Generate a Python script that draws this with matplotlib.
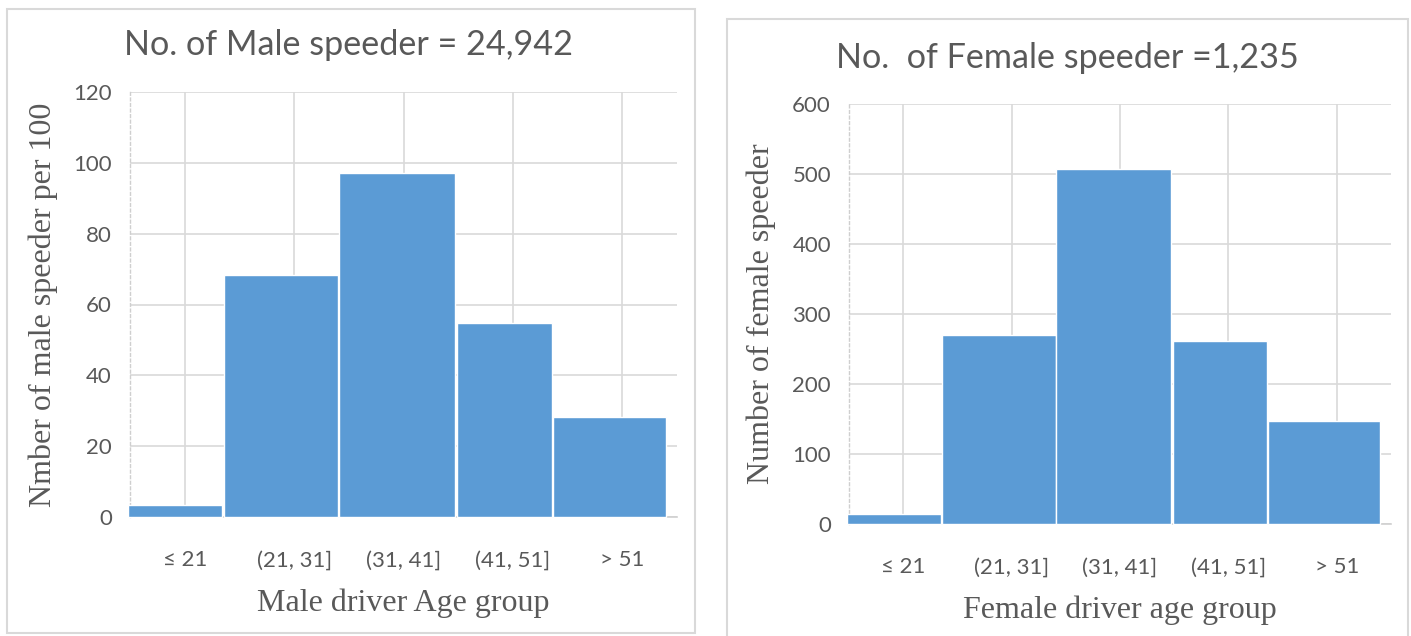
import matplotlib
matplotlib.use("Agg")
import matplotlib.pyplot as plt
from matplotlib.patches import Rectangle

# ---- data ----
categories = ["\u2264 21", "(21, 31]", "(31, 41]", "(41, 51]", "> 51"]
male_values = [3.4, 68.3, 97.2, 54.8, 28.3]
female_values = [15, 270, 507, 261, 147]
male_title = "No. of Male speeder = 24,942"
female_title = "No.  of Female speeder =1,235"
male_yticks = [0, 20, 40, 60, 80, 100, 120]
female_yticks = [0, 100, 200, 300, 400, 500, 600]

# ---- layout (bar edges in category units, as drawn in the original) ----
bar_left = [-0.52, 0.355, 1.41, 2.485, 3.365]
bar_right = [0.345, 1.405, 2.475, 3.36, 4.40]

BLUE = "#5B9BD5"
GRID = "#D9D9D9"
TXT = "#595959"
SANS = ["Lato", "DejaVu Sans"]
SERIF = ["Liberation Serif", "DejaVu Serif"]

fig = plt.figure(figsize=(14.11, 6.36), dpi=100)
W, H = 1411, 636

def px_axes(x0, x1, ytop, ybot):
    return fig.add_axes([x0 / W, 1 - ybot / H, (x1 - x0) / W, (ybot - ytop) / H])

# panel borders
fig.patches.append(Rectangle((7 / W, 1 - 633 / H), 688 / W, 624 / H, transform=fig.transFigure,
                             fill=False, edgecolor=GRID, lw=1.5, zorder=0))
fig.patches.append(Rectangle((727 / W, -0.05), 681 / W, 0.05 + 1 - 19 / H, transform=fig.transFigure,
                             fill=False, edgecolor=GRID, lw=1.5, zorder=0))

def draw(ax, values, yticks, xlabel, ylabel, title, title_xy, xlabel_y, ylabel_x):
    widths = [r - l for l, r in zip(bar_left, bar_right)]
    ax.bar(bar_left, values, width=widths, align="edge", color=BLUE,
           edgecolor="white", linewidth=1.0, zorder=3, clip_on=False)
    ax.set_xlim(-0.5, 4.5)
    ax.set_ylim(yticks[0], yticks[-1])
    ax.set_xticks(range(len(categories)))
    ax.set_xticklabels(categories)
    ax.set_yticks(yticks)
    ax.grid(True, color=GRID, lw=1.2, zorder=0)
    ax.set_axisbelow(True)
    for s in ["top", "right"]:
        ax.spines[s].set_visible(False)
    ax.spines["left"].set_color("#CFCFCF")
    ax.spines["left"].set_linestyle((0, (2, 2)))
    ax.spines["left"].set_linewidth(1.0)
    ax.spines["bottom"].set_color("#D0D0D0")
    ax.spines["bottom"].set_linewidth(1.2)
    ax.tick_params(axis="both", length=0, colors=TXT, labelsize=16)
    ax.tick_params(axis="x", pad=24)
    ax.tick_params(axis="y", pad=13)
    for lab in ax.get_xticklabels() + ax.get_yticklabels():
        lab.set_family(SANS)
    ax.set_xlabel(xlabel, family=SERIF, fontsize=23, color=TXT, va="center")
    ax.xaxis.set_label_coords(0.5, xlabel_y)
    ax.set_ylabel(ylabel, family=SERIF, fontsize=23, color=TXT, va="center")
    ax.yaxis.set_label_coords(ylabel_x, 0.5)
    fig.text(title_xy[0] / W, 1 - title_xy[1] / H, title, family=SANS, fontsize=24.6,
             color=TXT, ha="center", va="center")

ax1 = px_axes(130, 677, 92, 517)
draw(ax1, male_values, male_yticks, "Male driver Age group",
     "Nmber of male speeder per 100", male_title, (349, 45),
     (517 - 603) / 425, (43 - 130) / 547)

ax2 = px_axes(849, 1391, 104, 524)
draw(ax2, female_values, female_yticks, "Female driver age group",
     "Number of female speeder", female_title, (1067, 58),
     (524 - 610) / 420, (761 - 849) / 542)

fig.savefig("out.png", dpi=100, facecolor="white")
